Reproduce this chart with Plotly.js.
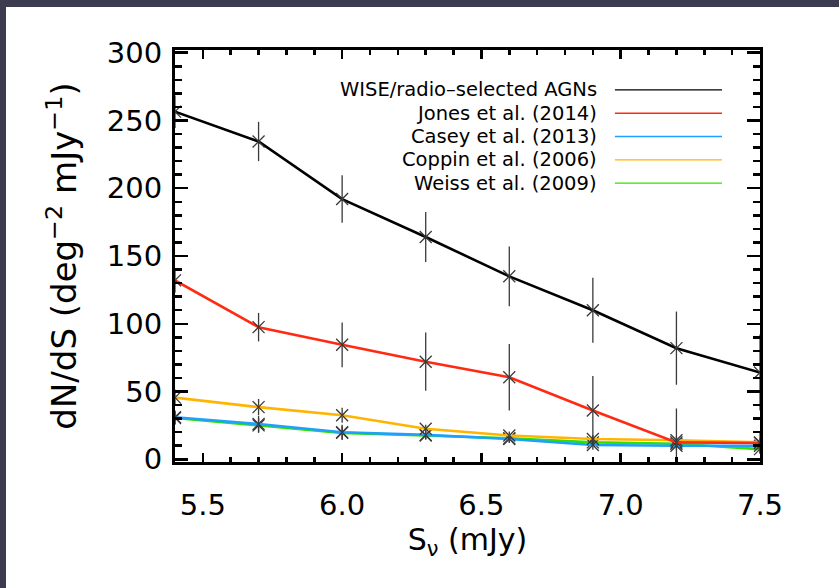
<!DOCTYPE html>
<html>
<head>
<meta charset="utf-8">
<script src="https://cdn.plot.ly/plotly-3.0.1.min.js"></script>
<style>
  html, body { margin: 0; padding: 0; background: #3d3b4f; width: 839px; height: 588px; overflow: hidden; }
  #chart { position: absolute; left: 6px; top: 7px; width: 833px; height: 581px; background: #fff; }
</style>
</head>
<body>
<div id="chart"></div>
<script>
// ---- data ----
const fluxS = [5.4, 5.7, 6.0, 6.3, 6.6, 6.9, 7.2, 7.5];

const wiseAGN    = [256.5, 234.5, 192.0, 164.0, 135.0, 110.0, 82.0, 64.0];
const wiseErr    = [12.0, 14.5, 17.5, 18.5, 22.0, 24.0, 27.0, 28.0];

const jones2014  = [132.0, 97.5, 84.5, 72.0, 60.5, 36.0, 12.5, 12.0];
const jonesErr   = [9.0, 10.5, 16.5, 21.5, 24.5, 25.5, 25.0, 8.0];

const casey2013  = [31.0, 26.0, 20.0, 18.0, 15.0, 10.5, 10.0, 10.0];
const caseyErr   = [5.0, 6.0, 5.5, 3.0, 3.0, 3.5, 3.0, 3.0];

const coppin2006 = [45.5, 38.5, 32.5, 22.5, 17.5, 15.0, 14.0, 12.5];
const coppinErr  = [6.0, 6.0, 5.5, 3.0, 3.0, 3.0, 3.0, 3.0];

const weiss2009  = [30.5, 25.0, 19.5, 17.5, 15.5, 12.5, 11.5, 7.5];
const weissErr   = [5.0, 5.5, 5.0, 3.0, 3.0, 3.0, 3.0, 3.0];

const seriesNames  = ['WISE/radio\u2013selected AGNs', 'Jones et al. (2014)', 'Casey et al. (2013)', 'Coppin et al. (2006)', 'Weiss et al. (2009)'];
const seriesColors = ['#000000', '#ff2a12', '#1ea0ff', '#ffb400', '#30e000'];
const seriesValues = [wiseAGN, jones2014, casey2013, coppin2006, weiss2009];
const seriesErrors = [wiseErr, jonesErr, caseyErr, coppinErr, weissErr];

const xTickVals = [5.5, 6.0, 6.5, 7.0, 7.5];
const xTickText = ['5.5', '6.0', '6.5', '7.0', '7.5'];
const yTickVals = [0, 50, 100, 150, 200, 250, 300];
const yTickText = ['0', '50', '100', '150', '200', '250', '300'];

// ---- traces (drawn bottom to top) ----
const drawOrder = [4, 2, 3, 1, 0];
const traces = drawOrder.map(i => ({
  type: 'scatter',
  mode: 'lines+markers',
  x: fluxS,
  y: seriesValues[i],
  name: seriesNames[i],
  showlegend: false,
  line: { color: seriesColors[i], width: 2.6 },
  marker: { symbol: 'x-thin-open', size: 12, color: '#3a3a3a', line: { color: '#3a3a3a', width: 1.3 } },
  error_y: { type: 'data', array: seriesErrors[i], visible: true, color: '#3a3a3a', thickness: 1.3, width: 0 },
  cliponaxis: true
}));

// ---- legend (text right-aligned, line sample on the right) ----
const FONT = 'DejaVu Sans, Liberation Sans, sans-serif';
const legTop = 0.903, legStep = 0.0565;
const annotations = seriesNames.map((n, i) => ({
  xref: 'paper', yref: 'paper', x: 0.724, y: legTop - i * legStep,
  xanchor: 'right', yanchor: 'middle', showarrow: false,
  text: n, font: { family: FONT, size: 19.5, color: '#000' }
}));
const shapes = seriesNames.map((n, i) => ({
  type: 'line', xref: 'paper', yref: 'paper',
  x0: 0.752, x1: 0.935, y0: legTop - i * legStep, y1: legTop - i * legStep,
  line: { color: seriesColors[i], width: 1.3 }
}));

const axisCommon = {
  showgrid: false, zeroline: false,
  showline: true, linecolor: '#000', linewidth: 3, mirror: 'ticks',
  ticks: 'inside', tickcolor: '#000', tickwidth: 2.5,
  tickfont: { family: FONT, size: 29, color: '#000' },
  layer: 'above traces'
};

const layout = {
  width: 833, height: 581,
  margin: { l: 169, r: 79, t: 43, b: 126 },
  paper_bgcolor: '#ffffff', plot_bgcolor: '#ffffff',
  font: { family: FONT, color: '#000' },
  showlegend: false,
  xaxis: Object.assign({}, axisCommon, {
    range: [5.4, 7.5], tickmode: 'array', tickvals: xTickVals, ticktext: xTickText,
    ticklen: 9, ticklabelstandoff: 15,
    minor: { ticks: 'inside', dtick: 0.1, tick0: 5.4, ticklen: 5, tickwidth: 2.5, tickcolor: '#000' },
    title: { text: 'S<sub>\u03bd</sub> (mJy)', font: { family: FONT, size: 30, color: '#000' }, standoff: 8 }
  }),
  yaxis: Object.assign({}, axisCommon, {
    range: [-2, 302], tickmode: 'array', tickvals: yTickVals, ticktext: yTickText,
    ticklen: 13, ticklabelstandoff: 4,
    minor: { ticks: 'inside', dtick: 10, tick0: 0, ticklen: 7, tickwidth: 2.5, tickcolor: '#000' },
    title: { text: 'dN/dS (deg<sup>\u22122</sup> mJy<sup>\u22121</sup>)', font: { family: FONT, size: 34, color: '#000' }, standoff: 20 }
  }),
  annotations: annotations,
  shapes: shapes
};

Plotly.newPlot('chart', traces, layout, { displayModeBar: false, staticPlot: true });
</script>
</body>
</html>
